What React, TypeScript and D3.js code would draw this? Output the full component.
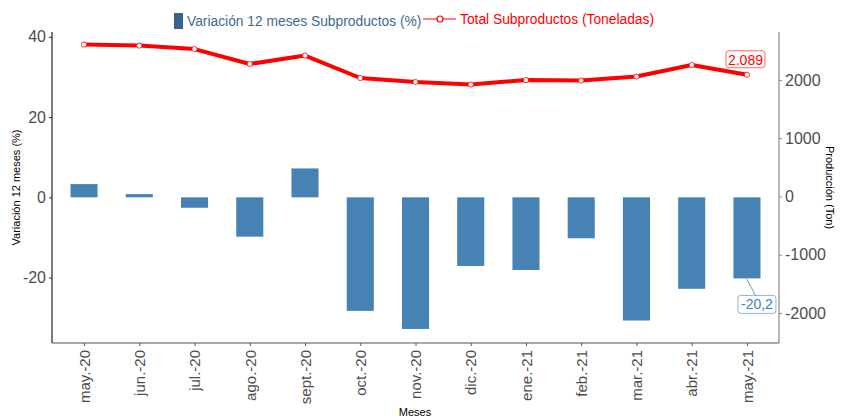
import { useEffect, useRef } from 'react';
import * as d3 from 'd3';

const months = ['may.-20', 'jun.-20', 'jul.-20', 'ago.-20', 'sept.-20', 'oct.-20', 'nov.-20', 'dic.-20', 'ene.-21', 'feb.-21', 'mar.-21', 'abr.-21', 'may.-21'];
const variacion = [3.3, 0.8, -2.6, -9.8, 7.2, -28.3, -32.8, -17.1, -18.1, -10.2, -30.7, -22.8, -20.2];
const toneladas = [2607, 2590, 2530, 2273, 2419, 2033, 1964, 1921, 1998, 1990, 2058, 2256, 2089];
const leftTicks = [-20, 0, 20, 40];
const rightTicks = [-2000, -1000, 0, 1000, 2000];

export default function App() {
  const svgRef = useRef<SVGSVGElement | null>(null);
  const width = 845;
  const height = 419;

  useEffect(() => {
    if (!svgRef.current) return;
    const svg = d3.select(svgRef.current);
    svg.selectAll('*').remove();

    const left = 52, right = 779, top = 32, bottom = 343;
    const font = 'Arial, "Liberation Sans", sans-serif';
    const fmt = (d: number) => String(d);

    const x = d3.scalePoint<string>().domain(months).range([left, right]).padding(0.58);
    const yL = d3.scaleLinear().domain([-36.3, 41.2]).range([bottom, top]);
    const yR = d3.scaleLinear().domain([-2516, 2823]).range([bottom, top]);
    const barW = x.step() * 0.49;

    // bars
    svg.append('g').selectAll('rect')
      .data(variacion)
      .enter().append('rect')
      .attr('x', (d, i) => (x(months[i]) as number) - barW / 2)
      .attr('y', d => yL(Math.max(0, d)))
      .attr('width', barW)
      .attr('height', d => Math.abs(yL(d) - yL(0)))
      .attr('fill', '#4682b4');

    // line
    const line = d3.line<number>()
      .x((d, i) => x(months[i]) as number)
      .y(d => yR(d));
    svg.append('path')
      .datum(toneladas)
      .attr('fill', 'none')
      .attr('stroke', '#ff0000')
      .attr('stroke-width', 4)
      .attr('stroke-linejoin', 'round')
      .attr('d', line);
    svg.append('g').selectAll('circle')
      .data(toneladas)
      .enter().append('circle')
      .attr('cx', (d, i) => x(months[i]) as number)
      .attr('cy', d => yR(d))
      .attr('r', 2.6)
      .attr('fill', 'white')
      .attr('stroke', '#ff0000')
      .attr('stroke-width', 0.8);

    // left axis
    const gl = svg.append('g').attr('transform', `translate(${left},0)`)
      .call(d3.axisLeft(yL).tickValues(leftTicks).tickFormat(fmt as any).tickSize(3).tickPadding(3));
    gl.select('.domain').attr('stroke', '#222').attr('stroke-width', 1.2).attr('d', `M0,${top}V${bottom}`);
    gl.selectAll('.tick line').attr('stroke', '#333');
    gl.selectAll('.tick text').attr('font-size', 16).attr('font-family', font).attr('fill', '#4d4d4d');

    // right axis
    const gr = svg.append('g').attr('transform', `translate(${right},0)`)
      .call(d3.axisRight(yR).tickValues(rightTicks).tickFormat(fmt as any).tickSize(3).tickPadding(3));
    gr.select('.domain').attr('stroke', '#888').attr('stroke-width', 1.2).attr('d', `M0,${top}V${bottom}`);
    gr.selectAll('.tick line').attr('stroke', '#888');
    gr.selectAll('.tick text').attr('font-size', 16).attr('font-family', font).attr('fill', '#4d4d4d');

    // bottom axis
    const gb = svg.append('g').attr('transform', `translate(0,${bottom})`)
      .call(d3.axisBottom(x).tickSize(3).tickPadding(3));
    gb.select('.domain').attr('stroke', '#555').attr('stroke-width', 1.2).attr('d', `M${left},0H${right}`);
    gb.selectAll('.tick line').attr('stroke', '#555');
    gb.selectAll('.tick text')
      .attr('font-size', 15).attr('font-family', font).attr('fill', '#4d4d4d')
      .attr('transform', 'rotate(-90)')
      .attr('text-anchor', 'end')
      .attr('x', -7).attr('y', 0).attr('dy', '0.35em');

    // axis titles
    svg.append('text')
      .attr('transform', `translate(20,${(top + bottom) / 2}) rotate(-90)`)
      .attr('text-anchor', 'middle').attr('font-size', 11).attr('font-family', font).attr('fill', '#000')
      .text('Variación 12 meses (%)');
    svg.append('text')
      .attr('transform', `translate(826,${(top + bottom) / 2}) rotate(90)`)
      .attr('text-anchor', 'middle').attr('font-size', 11).attr('font-family', font).attr('fill', '#000')
      .text('Producción (Ton)');
    svg.append('text')
      .attr('x', 415).attr('y', 416)
      .attr('text-anchor', 'middle').attr('font-size', 11).attr('font-family', font).attr('fill', '#000')
      .text('Meses');

    // legend
    svg.append('rect').attr('x', 174).attr('y', 13).attr('width', 9).attr('height', 16).attr('fill', '#36648b');
    svg.append('text').attr('x', 187).attr('y', 26).attr('font-size', 13.8).attr('font-family', font)
      .attr('fill', '#3d6a94').text('Variación 12 meses Subproductos (%)');
    svg.append('line').attr('x1', 423).attr('x2', 456).attr('y1', 19).attr('y2', 19)
      .attr('stroke', '#ff0000').attr('stroke-width', 1.2);
    svg.append('circle').attr('cx', 440).attr('cy', 19).attr('r', 3)
      .attr('fill', 'white').attr('stroke', '#ff0000').attr('stroke-width', 1.2);
    svg.append('text').attr('x', 460).attr('y', 24).attr('font-size', 13.8).attr('font-family', font)
      .attr('fill', '#ff0000').text('Total Subproductos (Toneladas)');

    // last-value labels
    const lastI = months.length - 1;
    const lx = x(months[lastI]) as number;
    const ly = yR(toneladas[lastI]);
    svg.append('rect').attr('x', lx - 21).attr('y', ly - 24).attr('width', 39).attr('height', 17)
      .attr('rx', 3).attr('fill', 'white').attr('stroke', '#ff0000').attr('stroke-width', 0.6);
    svg.append('text').attr('x', lx - 1.5).attr('y', ly - 10).attr('text-anchor', 'middle')
      .attr('font-size', 14).attr('font-family', font).attr('fill', '#ff0000')
      .text(d3.format(',')(toneladas[lastI]).replace(',', '.'));

    const by = yL(variacion[lastI]);
    svg.append('line').attr('x1', lx - 0.5).attr('y1', by).attr('x2', lx + 9).attr('y2', by + 18)
      .attr('stroke', '#4682b4').attr('stroke-width', 0.8);
    svg.append('rect').attr('x', lx - 9).attr('y', by + 17).attr('width', 38).attr('height', 18)
      .attr('rx', 3).attr('fill', 'white').attr('stroke', '#4682b4').attr('stroke-width', 0.6);
    svg.append('text').attr('x', lx + 10).attr('y', by + 31).attr('text-anchor', 'middle')
      .attr('font-size', 14).attr('font-family', font).attr('fill', '#4682b4')
      .text(String(variacion[lastI]).replace('.', ','));
  }, []);

  return (
    <div style={{ position: 'absolute', left: 0, top: 0 }}>
      <svg ref={svgRef} width={width} height={height} style={{ display: 'block', background: 'white' }}></svg>
    </div>
  );
}
